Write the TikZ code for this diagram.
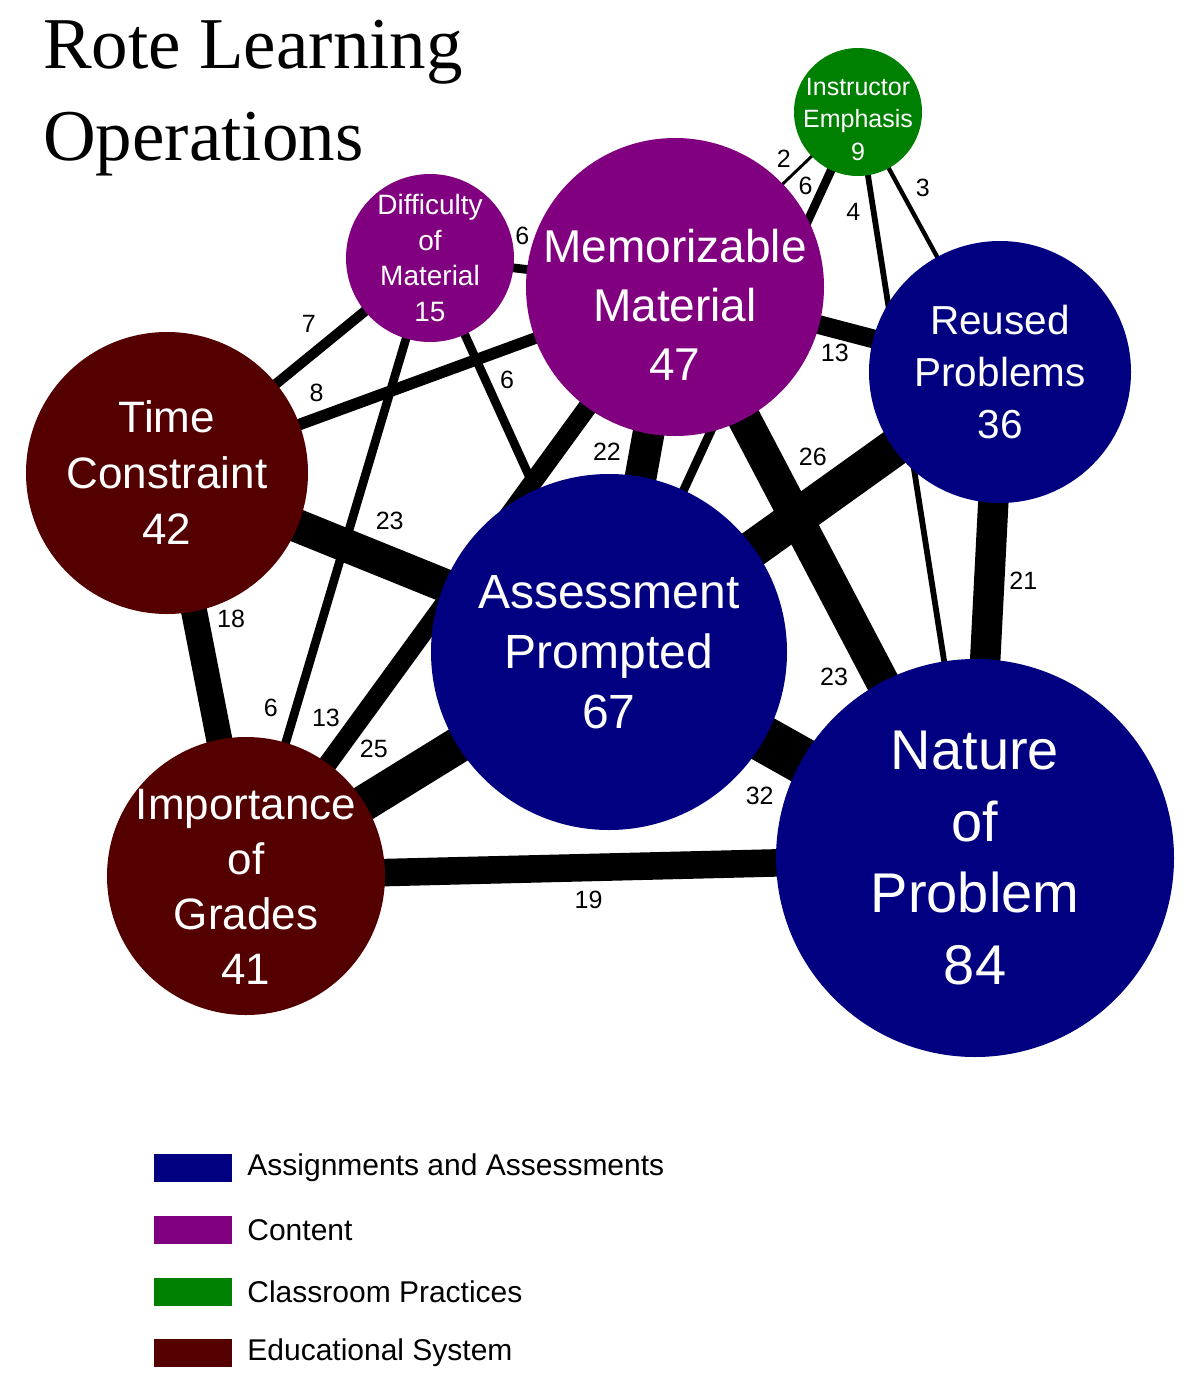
\documentclass[tikz,border=0pt]{standalone}
\usepackage{fontspec}
\setmainfont{Liberation Sans}
\newfontfamily\titlefont{Liberation Serif}
\usepackage{tikz}
\usetikzlibrary{positioning, backgrounds}

\definecolor{assign}{RGB}{0,0,128}
\definecolor{content}{RGB}{128,0,128}
\definecolor{practice}{RGB}{0,128,0}
\definecolor{edsys}{RGB}{85,0,0}

\newcommand{\fsz}[2]{\fontsize{#1}{#2}\selectfont}
\newcommand{\topgap}[1]{\rule{0pt}{#1}}

\begin{document}
\begin{tikzpicture}[x=1pt, y=-1pt,
        bubble/.style={circle, inner sep=-20pt, align=center, text=white},
        link/.style={line width=1.45pt*#1},
        num/.style={font=\fsz{25}{29}, inner sep=0pt},
        key/.style={rectangle, minimum width=78pt, minimum height=28pt, inner sep=0pt},
        keytext/.style={font=\fsz{30}{34}, inner sep=0pt}]

    \useasboundingbox (0,0) rectangle (1200,1387);

    % title
    \node (title1) [anchor=base west, inner sep=0pt, font=\titlefont\fsz{73}{92}] at (43,68) {Rote Learning};
    \node (title2) [anchor=base west, inner sep=0pt, font=\titlefont\fsz{73}{92}] at (43,160) {Operations};

    % codes
    \node (ie) [bubble, fill=practice, minimum size=128pt, font=\fsz{25}{32.5}] at (858,112) {\topgap{32pt}Instructor\\Emphasis\\9};
    \node (dm) [bubble, fill=content, minimum size=168pt, font=\fsz{28}{35.7}] at (430,258) {Difficulty\\of\\Material\\15};
    \node (mm) [bubble, fill=content, minimum size=298pt, font=\fsz{46}{59}] at (675,287) {\topgap{68pt}Memorizable\\Material\\47};
    \node (rp) [bubble, fill=assign, minimum size=262pt, font=\fsz{40.5}{52}] at (1000,372) {Reused\\Problems\\36};
    \node (tc) [bubble, fill=edsys, minimum size=282pt, font=\fsz{44}{56}] at (167,473) {Time\\Constraint\\42};
    \node (ap) [bubble, fill=assign, minimum size=356pt, font=\fsz{48}{60}] at (609,652) {Assessment\\Prompted\\67};
    \node (ig) [bubble, fill=edsys, minimum size=278pt, font=\fsz{44}{55}] at (246,876) {\topgap{52pt}Importance\\of\\Grades\\41};
    \node (np) [bubble, fill=assign, minimum size=398pt, font=\fsz{56}{71.7}] at (975,858) {Nature\\of\\Problem\\84};

    % co-occurrence links
    \begin{scope}[on background layer]
        \draw[link=2] (ie.center) -- node[num, pos=.34, xshift=-12pt, yshift=13pt] {2} (mm.center);
        \draw[link=6] (ie.center) -- node[num, pos=.15, xshift=-15pt, yshift=7pt] {6} (ap.center);
        \draw[link=3] (ie.center) -- node[num, pos=.33, xshift=18pt, yshift=10pt] {3} (rp.center);
        \draw[link=4] (ie.center) -- node[num, pos=.13, xshift=-20pt, yshift=-3pt] {4} (np.center);
        \draw[link=6] (dm.center) -- node[num, pos=.36, xshift=4pt, yshift=33pt] {6} (mm.center);
        \draw[link=7] (dm.center) -- node[num, pos=.40, xshift=-16pt, yshift=20pt] {7} (tc.center);
        \draw[link=6] (dm.center) -- node[num, pos=.74, xshift=-23pt, yshift=7pt] {6} (ig.center);
        \draw[link=6] (dm.center) -- node[num, pos=.33, xshift=18pt, yshift=8pt] {6} (ap.center);
        \draw[link=8] (mm.center) -- node[num, pos=.69, xshift=-8pt, yshift=22pt] {8} (tc.center);
        \draw[link=13] (mm.center) -- node[num, pos=.51, xshift=-6pt, yshift=-23pt] {13} (rp.center);
        \draw[link=22] (mm.center) -- node[num, pos=.47, xshift=-37pt, yshift=7pt] {22} (ap.center);
        \draw[link=13] (mm.center) -- node[num, pos=.76, xshift=-23pt, yshift=17pt] {13} (ig.center);
        \draw[link=23] (mm.center) -- node[num, pos=.65, xshift=-36pt, yshift=-19pt] {23} (np.center);
        \draw[link=26] (rp.center) -- node[num, pos=.42, xshift=-23pt, yshift=33pt] {26} (ap.center);
        \draw[link=21] (rp.center) -- node[num, pos=.43, xshift=34pt] {21} (np.center);
        \draw[link=23] (tc.center) -- node[num, pos=.47, xshift=15pt, yshift=36pt] {23} (ap.center);
        \draw[link=18] (tc.center) -- node[num, pos=.38, xshift=34pt, yshift=7pt] {18} (ig.center);
        \draw[link=25] (ig.center) -- node[num, pos=.41, xshift=-21pt, yshift=35pt] {25} (ap.center);
        \draw[link=32] (ap.center) -- node[num, pos=.48, xshift=-25pt, yshift=-45pt] {32} (np.center);
        \draw[link=19] (ig.center) -- node[num, pos=.47, yshift=-32pt] {19} (np.center);
    \end{scope}

    % legend
    \node (keyA) [key, fill=assign] at (193,1168) {};
    \node (keyC) [key, fill=content] at (193,1230) {};
    \node (keyP) [key, fill=practice] at (193,1292) {};
    \node (keyE) [key, fill=edsys] at (193,1353) {};
    \node (txtA) [keytext, right=15pt of keyA] {Assignments and Assessments};
    \node (txtC) [keytext, right=15pt of keyC] {Content};
    \node (txtP) [keytext, right=15pt of keyP] {Classroom Practices};
    \node (txtE) [keytext, right=15pt of keyE] {Educational System};
\end{tikzpicture}
\end{document}
